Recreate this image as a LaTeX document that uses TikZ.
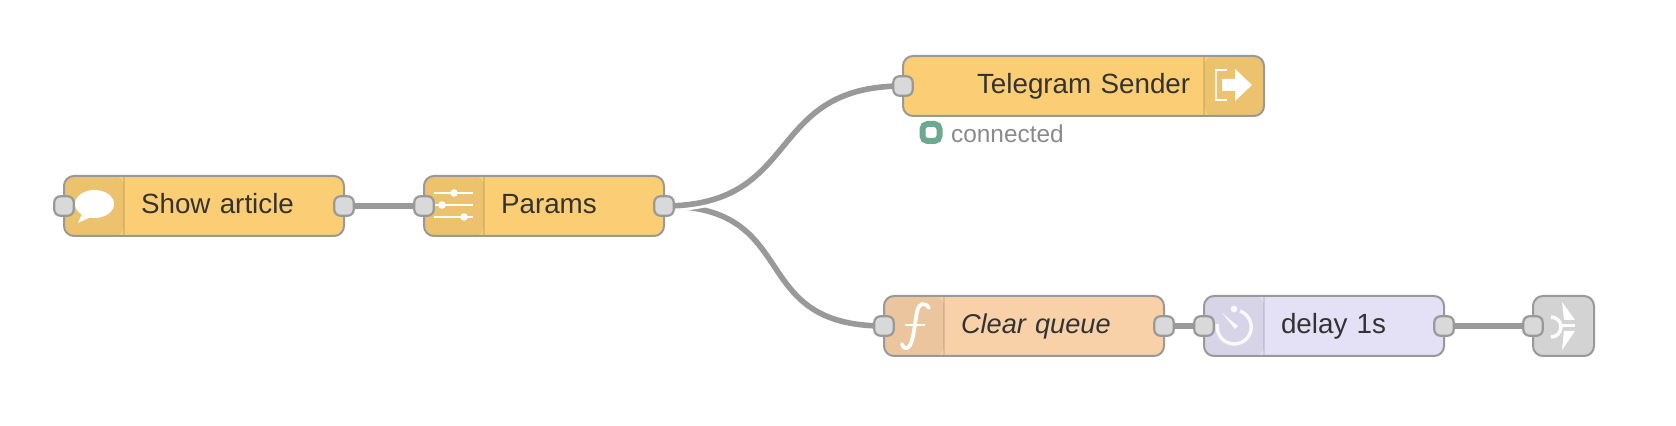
\documentclass[tikz,border=0pt]{standalone}
\usepackage{fontspec}
\setmainfont{Liberation Sans}
\usetikzlibrary{positioning,backgrounds}
\definecolor{line_gray}{HTML}{999999}
\definecolor{port_gray}{HTML}{D9D9D9}
\definecolor{text_dark}{HTML}{333333}
\definecolor{node_yellow}{HTML}{FBCE75}
\definecolor{node_orange}{HTML}{F9D1A8}
\definecolor{node_lilac}{HTML}{E4E1F6}
\definecolor{node_gray}{HTML}{D3D3D3}
\definecolor{status_green}{HTML}{6CAA8F}
\begin{document}
\begin{tikzpicture}[x=0.5pt, y=-0.5pt, outer sep=0pt,
  flow_node/.style 2 args={rectangle, rounded corners=5pt, draw=line_gray, line width=1pt, minimum height=30pt, text=text_dark, font=\fontsize{13.9pt}{16pt}\selectfont, text height=10pt, text depth=2pt, align=left, inner xsep=0pt, text width=#1, execute at begin node={\hspace*{#2}}},
  icon_left/.style={path picture={
    \fill[black, opacity=.055] (path picture bounding box.south west) rectangle ([xshift=30pt]path picture bounding box.north west);
    \draw[black, opacity=.1, line width=.8pt] ([xshift=30pt]path picture bounding box.south west) -- ([xshift=30pt]path picture bounding box.north west);}},
  icon_right/.style={path picture={
    \fill[black, opacity=.055] (path picture bounding box.south east) rectangle ([xshift=-30pt]path picture bounding box.north east);
    \draw[black, opacity=.1, line width=.8pt] ([xshift=-30pt]path picture bounding box.south east) -- ([xshift=-30pt]path picture bounding box.north east);}},
  port_node/.style={rectangle, rounded corners=3pt, draw=line_gray, fill=port_gray, line width=1.1pt, minimum size=9.7pt, inner sep=0pt},
  link_wire/.style={draw=line_gray, line width=2.8pt},
  link_outline/.style={draw=white, line width=5.5pt}]

  \useasboundingbox (0,0) rectangle (1676,426);

  \node[flow_node={140pt}{38.5pt}, fill=node_yellow, icon_left] (show) at (204,206) {Show article};
  \node[flow_node={120pt}{38.5pt}, fill=node_yellow, icon_left] (params) [right=40pt of show] {Params};
  \node[flow_node={180.5pt}{37pt}, fill=node_yellow, icon_right] (sender) at (1083.5,86) {Telegram Sender};
  \node[flow_node={140pt}{38.5pt}, fill=node_orange, icon_left, font=\fontsize{13.6pt}{16pt}\selectfont\itshape] (clear) at (1024,326) {Clear queue};
  \node[flow_node={120pt}{38.5pt}, fill=node_lilac, icon_left] (delay) [right=20pt of clear] {delay 1s};
  \node[rectangle, rounded corners=5pt, draw=line_gray, line width=1pt, fill=node_gray, minimum width=30.5pt, minimum height=30pt] (linkout) [right=44.5pt of delay] {};

  \node[rectangle, rounded corners=2.5pt, draw=status_green, line width=3pt, fill=white, minimum size=8.5pt, inner sep=0pt] (status) at (931,132.5) {};
  \node[right=5.8pt of status, yshift=-.5pt, text=line_gray!90!black, font=\fontsize{12.2pt}{14pt}\selectfont, inner sep=0pt, text height=9pt, text depth=0pt] (status_text) {connected};

  % icons
  \fill[white] (94.5,204) ellipse [x radius=9.75pt, y radius=7pt];
  \fill[white] (82,214) -- (78,223) -- (93,216) -- cycle;

  \foreach \ya/\xa in {193/454, 205/442, 217/464} {
    \draw[white, line width=.9pt] (434,\ya) -- (473,\ya);
    \fill[white] (\xa,\ya) circle [radius=1.9pt];
  }

  \fill[white] (1215,69) rectangle (1227,71);
  \fill[white] (1215,99) rectangle (1227,101);
  \fill[white, opacity=.75] (1215,69) rectangle (1217,101);
  \fill[white] (1222,79) -- (1235,79) -- (1235,69) -- (1252,85) -- (1235,101) -- (1235,91) -- (1222,91) -- cycle;

  \draw[white, line width=1.9pt, line cap=round] (929,308) .. controls (925,302) and (919,302) .. (917,312) .. controls (915,322) and (914,334) .. (912,340) .. controls (910,349) and (904,351) .. (902,344);
  \draw[white, line width=1.2pt] (905,325) -- (925,325);

  \draw[white, opacity=.85, line width=1.7pt] (1240,311) arc [start angle=70, end angle=-190, radius=8.5pt];
  \fill[white, opacity=.85] (1234,309) circle [radius=1.7pt];
  \fill[white, opacity=.85] (1222,313) -- (1238,326) -- (1235,329) -- cycle;

  \fill[white] (1562,302) -- (1575,320) -- (1564,320) -- cycle;
  \fill[white] (1562,350) -- (1575,331) -- (1564,331) -- cycle;
  \draw[white, line width=1.7pt] (1551,317) arc [start angle=90, end angle=-90, radius=5pt];
  \draw[white, line width=1.2pt] (1560,325.5) -- (1575,325.5);

  \node[port_node] (show_in) at (show.west) {};
  \node[port_node] (show_out) at (show.east) {};
  \node[port_node] (params_in) at (params.west) {};
  \node[port_node] (params_out) at (params.east) {};
  \node[port_node] (sender_in) at (sender.west) {};
  \node[port_node] (clear_in) at (clear.west) {};
  \node[port_node] (clear_out) at (clear.east) {};
  \node[port_node] (delay_in) at (delay.west) {};
  \node[port_node] (delay_out) at (delay.east) {};
  \node[port_node] (linkout_in) at (linkout.west) {};

  \begin{pgfonlayer}{background}
    \path[link_wire] (show_out.center) edge (params_in.center)
      (clear_out.center) edge (delay_in.center)
      (delay_out.center) edge (linkout_in.center);
    \draw[link_wire] (params_out.center) .. controls +(140,0) and +(-140,0) .. (clear_in.center);
    \draw[link_outline] (params_out.center) .. controls +(140,0) and +(-140,0) .. (sender_in.center);
    \draw[link_wire] (params_out.center) .. controls +(140,0) and +(-140,0) .. (sender_in.center);
  \end{pgfonlayer}
\end{tikzpicture}
\end{document}
